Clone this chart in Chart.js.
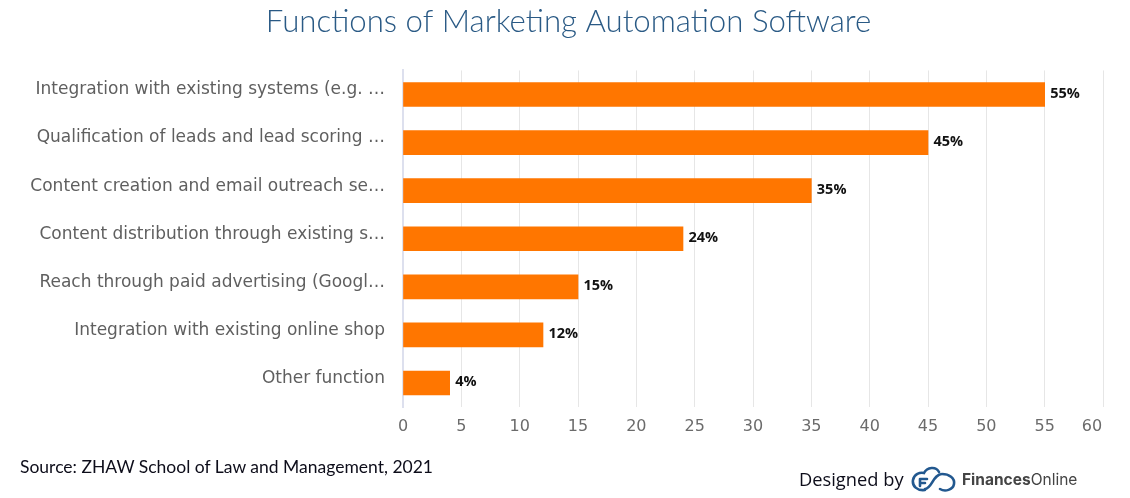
<!DOCTYPE html>
<html><head><meta charset="utf-8">
<script src="https://cdn.jsdelivr.net/npm/chart.js@4"></script>
<style>
html,body{margin:0;padding:0;background:#fff;width:1130px;height:498px;overflow:hidden}
#wrap{position:relative;width:1130px;height:498px}
canvas{position:absolute;left:0;top:0}
.t{position:absolute;white-space:nowrap;color:#0d0d1a}
</style></head><body>
<div id="wrap">
<canvas id="c" width="1130" height="498"></canvas>
<div class="t" style="left:20px;top:456px;font:17.5px Lato,sans-serif">Source: ZHAW School of Law and Management, 2021</div>
<div class="t" style="left:799px;top:466px;font:18.3px 'Open Sans',sans-serif">Designed by</div>
<svg style="position:absolute;left:911px;top:465px" width="46" height="28" viewBox="0 0 46 28" fill="none" stroke="#22588f" stroke-width="2.6" stroke-linecap="round">
<path d="M14 25C6 26 1 21 2 15C3 9 9 7 13 8C16 2 25 1 28 7"/>
<path d="M14 24C21 24 22 9 31 9C38 9 44 13 43 19C42 25 34 27 29 24"/>
<path d="M9 14H16M9 14V21M9 18H14"/>
</svg>
<div class="t" style="left:962px;top:470px;font:15.5px Inter,sans-serif;color:#444"><b>Finances</b>Online</div>
</div>
<script>
const categories=["Integration with existing systems (e.g. …","Qualification of leads and lead scoring …","Content creation and email outreach se…","Content distribution through existing s…","Reach through paid advertising (Googl…","Integration with existing online shop","Other function"];
const values=[55,45,35,24,15,12,4];
const titleText="Functions of Marketing Automation Software";
const tickFont="'DejaVu Sans',sans-serif";
const valueLabels={id:'valueLabels',
 beforeDraw(ch){
  const items=ch.scales.x.getLabelItems();
  const last=items[items.length-1];
  if(last&&!last._moved){last.options.translation[0]-=11;last._moved=true;}
 },
 afterDatasetsDraw(ch){
  const {ctx}=ch;const m=ch.getDatasetMeta(0);
  ctx.save();ctx.font="bold 14.5px 'Open Sans',sans-serif";ctx.fillStyle="#111";ctx.textBaseline="middle";
  m.data.forEach((b,i)=>ctx.fillText(values[i]+"%",b.x+5.5,b.y-1));
  ctx.restore();
 }};
new Chart(document.getElementById('c'),{
  type:'bar',
  data:{labels:categories,datasets:[{data:values,backgroundColor:'#ff7600',borderWidth:0,barThickness:24}]},
  plugins:[valueLabels],
  options:{
    indexAxis:'y',responsive:false,animation:false,devicePixelRatio:1,
    layout:{padding:{top:0,left:34,right:27,bottom:0}},
    plugins:{legend:{display:false},tooltip:{enabled:false},
      title:{display:true,text:titleText,color:'#2a5a85',font:{family:'Lato',size:31.2,weight:'300'},padding:{top:3,bottom:30}}},
    scales:{
      x:{min:0,max:60,position:'bottom',
        afterFit(s){s.height=498-407;},
        grid:{color:'#e6e6e6',lineWidth:1,drawTicks:false},border:{display:false},
        ticks:{stepSize:5,color:'#6b6b6b',padding:10,maxRotation:0,font:{family:tickFont,size:16}}},
      y:{
        afterFit(s){s.width=403-34;s._computeLabelArea=()=>undefined;},
        grid:{display:false},border:{display:true,color:'#dde0ee',width:2},
        ticks:{color:'#5f5f5f',padding:10,labelOffset:-4.5,autoSkip:false,font:{family:tickFont,size:17}}}
    }
  }
});
</script>
</body></html>
